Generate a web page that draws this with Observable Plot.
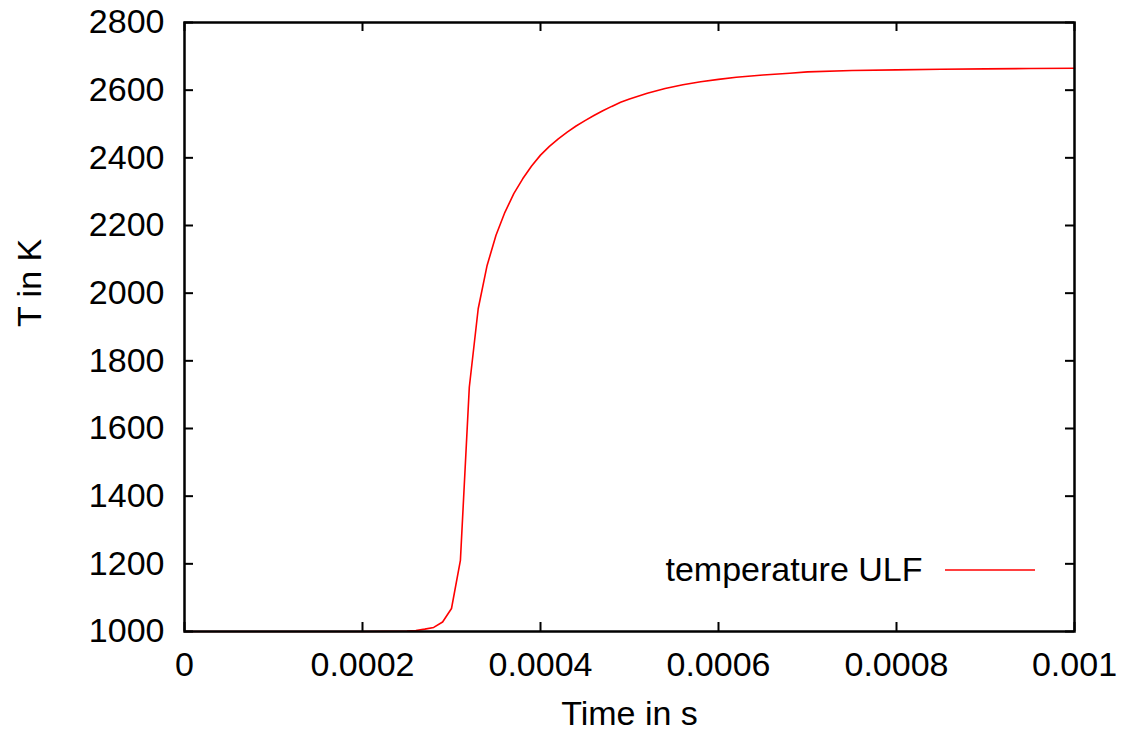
<!DOCTYPE html>
<html>
<head>
<meta charset="utf-8">
<script src="https://cdn.jsdelivr.net/npm/d3@7"></script>
<script src="https://cdn.jsdelivr.net/npm/@observablehq/plot@0.6"></script>
<style>
  html, body { margin: 0; padding: 0; background: #fff; }
</style>
</head>
<body>
<div id="chart"></div>
<script>
const times = [0, 0.0001, 0.0002, 0.00025, 0.00026, 0.00027, 0.00028, 0.00029, 0.0003, 0.00031, 0.00032, 0.00033, 0.00034, 0.00035, 0.00036, 0.00037, 0.00038, 0.00039, 0.0004, 0.00041, 0.00042, 0.00043, 0.00044, 0.00045, 0.00046, 0.00047, 0.00048, 0.00049, 0.0005, 0.00052, 0.00054, 0.00056, 0.00058, 0.0006, 0.00062, 0.00065, 0.00068, 0.0007, 0.00075, 0.0008, 0.00085, 0.0009, 0.00095, 0.001];
const temperature = [1000, 1000, 1000, 1001, 1003, 1007, 1012, 1028, 1068, 1210, 1722, 1954, 2082, 2171, 2239, 2294, 2338, 2376, 2408, 2434, 2456, 2476, 2494, 2510, 2525, 2539, 2552, 2564, 2574, 2591, 2605, 2616, 2625, 2632, 2638, 2645, 2650, 2654, 2658, 2660, 2662, 2663, 2664, 2665];
const xTicks = [0, 0.0002, 0.0004, 0.0006, 0.0008, 0.001];
const xTickLabels = ["0", "0.0002", "0.0004", "0.0006", "0.0008", "0.001"];
const yTicks = [1000, 1200, 1400, 1600, 1800, 2000, 2200, 2400, 2600, 2800];
const seriesName = "temperature ULF";
const xTitle = "Time in s";
const yTitle = "T in K";

const data = times.map((t, i) => ({t, T: temperature[i]}));

const W = 1127, H = 735;
const mL = 184, mR = 53, mT = 22, mB = 104;
const plotH = H - mT - mB;
const plotW = W - mL - mR;
const tick = 9;
const fs = 34;

const chart = Plot.plot({
  width: W,
  height: H,
  marginLeft: mL,
  marginRight: mR,
  marginTop: mT,
  marginBottom: mB,
  style: {fontFamily: "'Liberation Sans', Arial, Helvetica, sans-serif", fontSize: fs + "px", color: "black", background: "white"},
  x: {domain: [0, 0.001]},
  y: {domain: [1000, 2800]},
  marks: [
    Plot.line(data, {x: "t", y: "T", stroke: "#ff0000", strokeWidth: 1.6}),
    // inward ticks on all four sides
    Plot.tickX(xTicks, {x: d => d, insetTop: plotH - tick, stroke: "black", strokeWidth: 2}),
    Plot.tickX(xTicks, {x: d => d, insetBottom: plotH - tick, stroke: "black", strokeWidth: 2}),
    Plot.tickY(yTicks, {y: d => d, insetRight: plotW - tick, stroke: "black", strokeWidth: 2}),
    Plot.tickY(yTicks, {y: d => d, insetLeft: plotW - tick, stroke: "black", strokeWidth: 2}),
    Plot.frame({stroke: "black", strokeWidth: 2.5}),
    Plot.axisX(xTicks, {tickSize: 0, tickPadding: 20, tickFormat: (d, i) => xTickLabels[i], label: null, fontSize: fs}),
    Plot.axisY(yTicks, {tickSize: 0, tickPadding: 20, tickFormat: d => String(d), label: null, fontSize: fs}),
    Plot.text([xTitle], {frameAnchor: "bottom", dy: 83, lineAnchor: "middle", fontSize: fs, fill: "black"}),
    Plot.text([yTitle], {frameAnchor: "left", dx: -154, rotate: -90, lineAnchor: "middle", fontSize: fs, fill: "black"}),
    Plot.text([seriesName], {frameAnchor: "bottom-right", dx: -152, dy: -61, textAnchor: "end", lineAnchor: "middle", fontSize: fs, fill: "black"})
  ]
});

// legend sample line
const svg = d3.select(chart);
svg.append("line")
  .attr("x1", W - mR - 129).attr("x2", W - mR - 39)
  .attr("y1", H - mB - 61).attr("y2", H - mB - 61)
  .attr("stroke", "#ff0000").attr("stroke-width", 1.6);

document.getElementById("chart").appendChild(chart);
</script>
</body>
</html>
